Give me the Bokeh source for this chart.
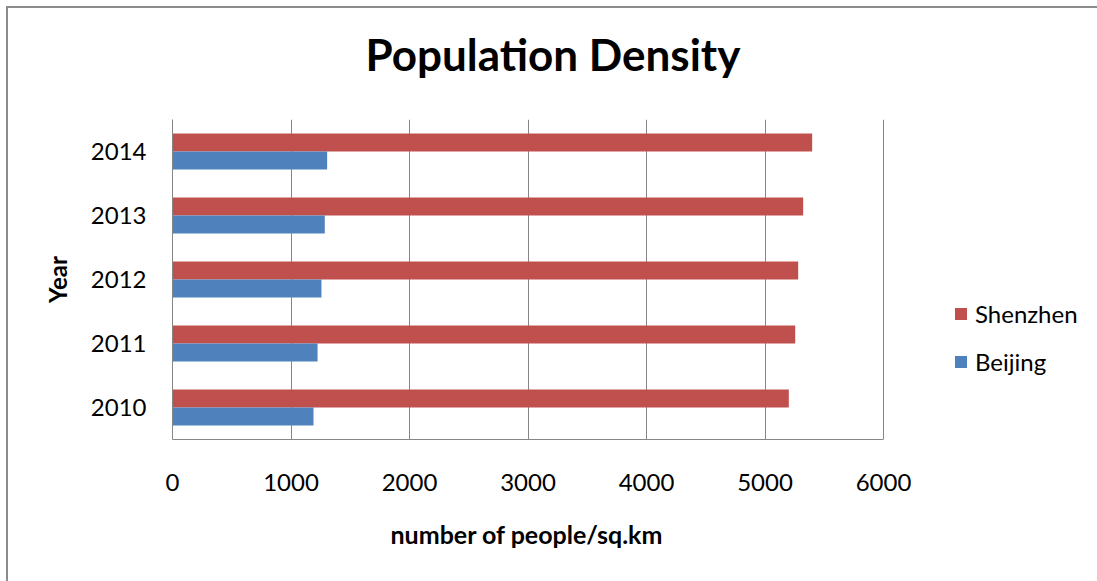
from bokeh.plotting import figure
from bokeh.models import ColumnDataSource, FactorRange, Legend, LegendItem, FixedTicker, Title
from bokeh.transform import dodge
from bokeh.layouts import column
from bokeh.embed import file_html
from bokeh.resources import INLINE

years = ["2010", "2011", "2012", "2013", "2014"]
shenzhen = [5201, 5255, 5280, 5322, 5398]
beijing = [1190, 1224, 1257, 1285, 1305]
x_ticks = [0, 1000, 2000, 3000, 4000, 5000, 6000]

src = ColumnDataSource(dict(year=years, shenzhen=shenzhen, beijing=beijing))

FONT = "Lato"
GRID = "#868686"

# frame spans from the y axis to the right edge so that the legend fits inside it;
# the value axis itself is bounded to 0..6000
X_END = 6000 * 925 / 711

p = figure(width=1089, height=573, y_range=FactorRange(*years, range_padding=0),
           x_range=(0, X_END), output_backend="svg", toolbar_location=None,
           min_border_left=164, min_border_right=0, min_border_top=111, min_border_bottom=142)
p.outline_line_color = None
p.background_fill_color = "white"
p.border_fill_color = "white"

r_sz = p.hbar(y=dodge("year", 0.14, range=p.y_range), right="shenzhen", left=0, height=0.28,
              source=src, fill_color="#C0504D", line_color=None)
r_bj = p.hbar(y=dodge("year", -0.14, range=p.y_range), right="beijing", left=0, height=0.28,
              source=src, fill_color="#4F81BD", line_color=None)

p.ygrid.grid_line_color = None
p.xgrid.grid_line_color = GRID
p.xgrid.grid_line_width = 1
p.xgrid.ticker = FixedTicker(ticks=x_ticks)
p.xaxis.ticker = FixedTicker(ticks=x_ticks)
p.xaxis.bounds = (0, 6000)

for ax in (p.xaxis[0], p.yaxis[0]):
    ax.axis_line_color = GRID
    ax.axis_line_width = 1
    ax.major_tick_line_color = None
    ax.minor_tick_line_color = None
    ax.major_label_text_font = FONT
    ax.major_label_text_font_size = "24px"
    ax.major_label_text_color = "black"
    ax.axis_label_text_font = FONT
    ax.axis_label_text_font_style = "bold"
    ax.axis_label_text_color = "black"

p.xaxis.major_label_standoff = 28
p.yaxis.axis_label = "Year"
p.yaxis.axis_label_text_font_size = "24px"
p.yaxis.major_label_standoff = 20
p.yaxis.axis_label_standoff = 16

p.title.text = "Population Density"
p.title.text_font = FONT
p.title.text_font_style = "bold"
p.title.text_font_size = "44px"
p.title.text_color = "black"
p.title.align = "left"
p.title.vertical_align = "bottom"
p.title.offset = 193
p.title.standoff = 0

# empty spacer between the title and the plot area
spacer = Title(text=" ", text_font_size="2px", standoff=36)
p.add_layout(spacer, "above")

xlab = Title(text="number of people/sq.km", text_font=FONT, text_font_style="bold",
             text_font_size="25px", text_color="black", align="left", offset=218, standoff=46)
p.add_layout(xlab, "below")

legend = Legend(items=[LegendItem(label="Shenzhen", renderers=[r_sz]),
                       LegendItem(label="Beijing", renderers=[r_bj])],
                location=(781, 63), orientation="vertical",
                glyph_width=15, glyph_height=15, label_height=20, label_standoff=7,
                spacing=19, padding=0, margin=0, border_line_color=None,
                background_fill_alpha=0,
                label_text_font=FONT, label_text_font_size="24px", label_text_color="black")
p.add_layout(legend, "center")

layout = column(p, styles={"border-left": "2px solid #8c8c8c", "border-top": "2px solid #8c8c8c",
                           "margin-left": "6px", "margin-top": "6px"})

open("out.html", "w").write(file_html(layout, INLINE))
